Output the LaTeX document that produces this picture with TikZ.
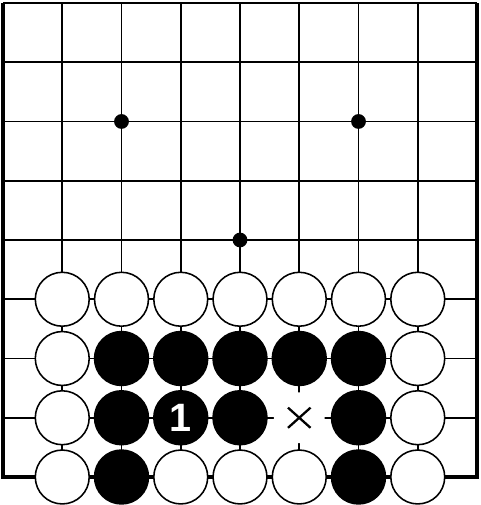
\documentclass[tikz,border=0pt]{standalone}
\usepackage{fontspec}
\setsansfont{Liberation Sans}
\begin{document}
\begin{tikzpicture}[
  grid line/.style = {line width=0.8pt},
  edge line/.style = {line width=1.9pt},
  white stone/.style = {circle, draw, line width=0.75pt, fill=white,
    minimum size=0.91cm, inner sep=0pt},
  black stone/.style = {white stone, fill=black, text=white,
    font=\sffamily\bfseries\fontsize{19}{22}\selectfont},
  hoshi/.style = {circle, fill=black, minimum size=0.25cm, inner sep=0pt},
  blank/.style = {circle, fill=white, minimum size=0.86cm, inner sep=0pt}]
  \useasboundingbox (-0.0506,-0.4726) rectangle (8.0506,8.0506);
  % board
  \foreach \i in {1,...,7}
    \draw[grid line] (\i,0) -- (\i,8);
  \foreach \i in {1,...,8}
    \draw[grid line] (0,\i) -- (8,\i);
  \draw[edge line] (0,8) -- (0,0) -- (8,0) -- (8,8);
  \foreach \c/\r in {2/6, 6/6, 4/4}
    \node[hoshi] (h\c\r) at (\c,\r) {};
  % stones
  \foreach \c/\r in {1/3, 2/3, 3/3, 4/3, 5/3, 6/3, 7/3,
                     1/2, 7/2, 1/1, 7/1,
                     1/0, 3/0, 4/0, 5/0, 7/0}
    \node[white stone] (w\c\r) at (\c,\r) {};
  \foreach \c/\r in {2/2, 3/2, 4/2, 5/2, 6/2,
                     2/1, 4/1, 6/1, 2/0, 6/0}
    \node[black stone] (b\c\r) at (\c,\r) {};
  \node[black stone] (b31) at (3,1) {1};
  % marked point
  \node[blank] (x51) at (5,1) {};
  \draw[line width=1.1pt] (x51.center) +(-0.19,-0.17) -- +(0.19,0.17)
    (x51.center) +(-0.19,0.17) -- +(0.19,-0.17);
\end{tikzpicture}
\end{document}
